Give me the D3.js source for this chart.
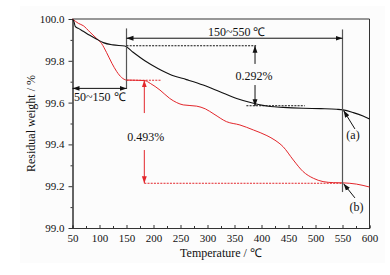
<!DOCTYPE html>
<html>
<head>
<meta charset="utf-8">
<script src="https://cdn.jsdelivr.net/npm/d3@7"></script>
<style>
  body { margin: 0; background: #fff; }
  text { font-family: "Liberation Serif", "Times New Roman", serif; fill: #111; }
</style>
</head>
<body>
<svg id="chart" width="390" height="275"></svg>
<script>
// curve (a), black
const tempA = [50, 53, 55, 61, 70, 82, 95, 107, 125, 147, 160, 184, 209, 234, 261, 292, 323, 354, 385, 416, 440, 477, 510, 539, 551, 570, 588, 600];
const weightA = [100, 99.985, 99.965, 99.955, 99.941, 99.922, 99.903, 99.887, 99.876, 99.871, 99.845, 99.800, 99.762, 99.731, 99.710, 99.684, 99.652, 99.620, 99.597, 99.581, 99.577, 99.573, 99.571, 99.568, 99.565, 99.552, 99.536, 99.522];

// curve (b), red
const tempB = [50, 61, 70, 82, 95, 104, 113, 123, 132, 141, 150, 166, 184, 194, 212, 230, 243, 255, 280, 296, 312, 335, 360, 385, 410, 425, 440, 459, 477, 496, 514, 533, 551, 576, 600];
const weightB = [100, 99.979, 99.968, 99.938, 99.906, 99.882, 99.840, 99.788, 99.748, 99.720, 99.708, 99.707, 99.705, 99.692, 99.660, 99.620, 99.600, 99.589, 99.583, 99.570, 99.545, 99.509, 99.493, 99.469, 99.442, 99.420, 99.389, 99.325, 99.270, 99.238, 99.222, 99.217, 99.216, 99.210, 99.196];

const xTicks = [50, 100, 150, 200, 250, 300, 350, 400, 450, 500, 550, 600];
const yTicks = [99.0, 99.2, 99.4, 99.6, 99.8, 100.0];

// annotation values (data units)
const stage1 = [50, 150];
const stage2 = [150, 550];
const lossA = [99.872, 99.580];
const lossB = [99.707, 99.214];

const svg = d3.select("#chart"),
    margin = { top: 19, right: 20.5, bottom: 47, left: 72.5 },
    width = 390 - margin.left - margin.right,
    height = 275 - margin.top - margin.bottom;

svg.append("rect").attr("x", 20).attr("y", 6).attr("width", 365).attr("height", 257).attr("fill", "#fcfcfc");

const chart = svg.append("g").attr("transform", `translate(${margin.left},${margin.top})`);

const x = d3.scaleLinear().domain([50, 600]).range([0, width]);
const y = d3.scaleLinear().domain([99.0, 100.0]).range([height, 0]);

// arrow markers
const defs = svg.append("defs");
function marker(id, color) {
    defs.append("marker")
        .attr("id", id)
        .attr("viewBox", "0 0 10 10")
        .attr("refX", 10).attr("refY", 5)
        .attr("markerWidth", 7).attr("markerHeight", 7)
        .attr("markerUnits", "userSpaceOnUse")
        .attr("orient", "auto-start-reverse")
        .append("path")
        .attr("d", "M0,1.5 L10,5 L0,8.5 Z")
        .attr("fill", color);
}
marker("arrBlack", "#111");
marker("arrRed", "#e3262b");

// axes
const xAxis = d3.axisBottom(x).tickValues(xTicks).tickSizeInner(-3).tickSizeOuter(0).tickPadding(6);
const xMinor = d3.axisBottom(x).tickValues(d3.range(75, 600, 50)).tickSize(-2).tickFormat("");
const yAxis = d3.axisLeft(y).tickValues(yTicks).tickSize(4).tickSizeOuter(0).tickFormat(d3.format(".1f")).tickPadding(4);
const yMinor = d3.axisLeft(y).tickValues([99.1, 99.3, 99.5, 99.7, 99.9]).tickSize(2).tickFormat("");

function styleAxis(g) {
    g.selectAll(".domain").attr("stroke", "#333");
    g.selectAll("line").attr("stroke", "#333");
    g.selectAll("text").attr("font-size", 11).attr("fill", "#111")
        .attr("font-family", "Liberation Serif, serif");
}
chart.append("g").attr("transform", `translate(0,${height})`).call(xAxis).call(styleAxis);
chart.append("g").attr("transform", `translate(0,${height})`).call(xMinor).call(styleAxis);
chart.append("g").call(yAxis).call(styleAxis);
chart.append("g").call(yMinor).call(styleAxis);

// frame top/right
chart.append("line").attr("x1", 0).attr("x2", width).attr("y1", 0).attr("y2", 0).attr("stroke", "#333");
chart.append("line").attr("x1", width).attr("x2", width).attr("y1", 0).attr("y2", height).attr("stroke", "#333");

// axis titles
svg.append("text")
    .attr("transform", `translate(31,${margin.top + height / 2}) rotate(-90)`)
    .attr("text-anchor", "middle").attr("dy", "0.35em")
    .attr("font-size", 12)
    .text("Residual weight / %");
svg.append("text")
    .attr("x", 221).attr("y", 257)
    .attr("text-anchor", "middle")
    .attr("font-size", 12)
    .text("Temperature / ℃");

// curves
const line = d3.line().x(d => x(d[0])).y(d => y(d[1])).curve(d3.curveMonotoneX);
chart.append("path")
    .datum(tempB.map((t, i) => [t, weightB[i]]))
    .attr("d", line).attr("fill", "none").attr("stroke", "#e3262b").attr("stroke-width", 1);
chart.append("path")
    .datum(tempA.map((t, i) => [t, weightA[i]]))
    .attr("d", line).attr("fill", "none").attr("stroke", "#111").attr("stroke-width", 1.1);

// helper
function seg(x1, y1, x2, y2, color, opts = {}) {
    const l = chart.append("line")
        .attr("x1", x(x1)).attr("y1", y(y1)).attr("x2", x(x2)).attr("y2", y(y2))
        .attr("stroke", color).attr("stroke-width", opts.w || 1);
    if (opts.dash) l.attr("stroke-dasharray", opts.dash);
    if (opts.start) l.attr("marker-start", `url(#${opts.start})`);
    if (opts.end) l.attr("marker-end", `url(#${opts.end})`);
    return l;
}
function label(t, v, s) {
    chart.append("text").attr("x", x(t)).attr("y", y(v)).attr("dy", "0.35em")
        .attr("text-anchor", "middle").attr("font-size", 12).text(s);
}

// stage boundaries
seg(stage1[1], 99.955, stage1[1], 99.665, "#555", { w: 1.2 });
seg(stage2[1], 99.95, stage2[1], 99.172, "#555", { w: 1.2 });

// range arrows
seg(stage1[0], 99.668, stage1[1], 99.668, "#111", { start: "arrBlack", end: "arrBlack" });
label(100.5, 99.628, "50~150 ℃");
seg(stage2[0], 99.908, stage2[1], 99.908, "#111", { start: "arrBlack", end: "arrBlack" });
label(354, 99.938, "150~550 ℃");

// loss (a)
seg(150, lossA[0], 390, lossA[0], "#111", { dash: "2,1.2" });
seg(372, lossA[1] + 0.005, 480, lossA[1] + 0.005, "#111", { dash: "2,1.2" });
seg(388, 99.785, 388, lossA[0], "#111", { end: "arrBlack" });
seg(388, 99.684, 388, lossA[1] + 0.003, "#111", { end: "arrBlack" });
label(386, 99.729, "0.292%");

// loss (b)
seg(150, lossB[0], 215, lossB[0], "#e3262b", { dash: "2,1.2" });
seg(183, lossB[1], 550, lossB[1], "#e3262b", { dash: "2,1.2" });
seg(183, 99.55, 183, lossB[0], "#e3262b", { end: "arrRed" });
seg(183, 99.373, 183, lossB[1], "#e3262b", { end: "arrRed" });
label(185.5, 99.437, "0.493%");

// curve labels
seg(573, 99.474, 552, 99.562, "#111", { end: "arrBlack" });
label(569.5, 99.445, "(a)");
seg(573, 99.144, 552, 99.212, "#111", { end: "arrBlack" });
label(576, 99.10, "(b)");
</script>
</body>
</html>
